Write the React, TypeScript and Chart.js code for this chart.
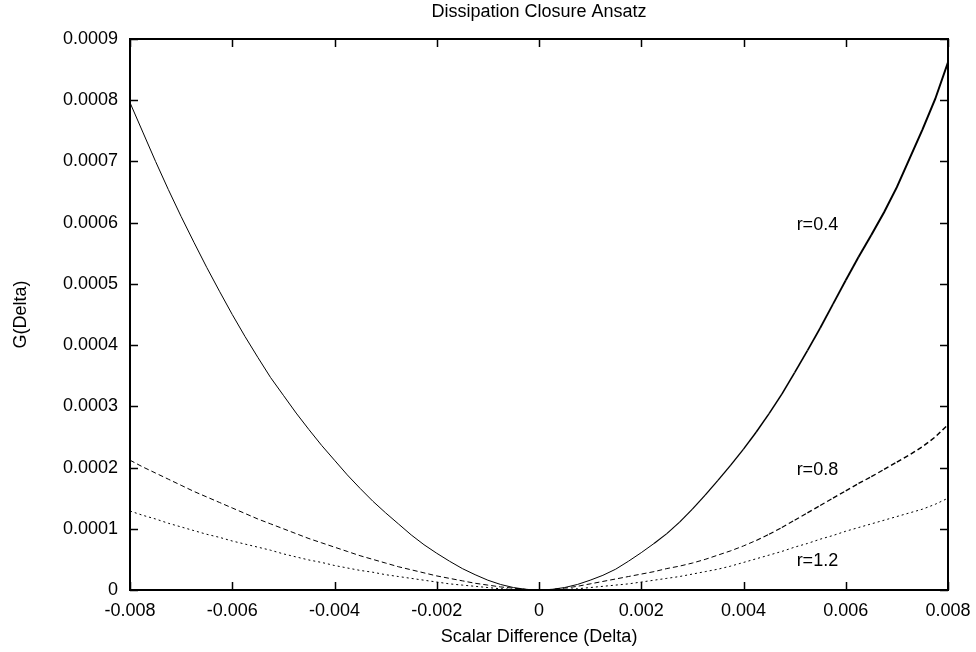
import React, { useEffect, useRef } from "react";
import { Chart, registerables } from "chart.js";

Chart.register(...registerables);

const chartTitle = "Dissipation Closure Ansatz";
const xAxisTitle = "Scalar Difference (Delta)";
const yAxisTitle = "G(Delta)";

const xTickValues = [-0.008, -0.006, -0.004, -0.002, 0, 0.002, 0.004, 0.006, 0.008];
const xTickLabels = ["-0.008", "-0.006", "-0.004", "-0.002", "0", "0.002", "0.004", "0.006", "0.008"];
const yTickValues = [0, 0.0001, 0.0002, 0.0003, 0.0004, 0.0005, 0.0006, 0.0007, 0.0008, 0.0009];
const yTickLabels = ["0", "0.0001", "0.0002", "0.0003", "0.0004", "0.0005", "0.0006", "0.0007", "0.0008", "0.0009"];

const deltas = [
  -0.008, -0.00775, -0.0075, -0.00725, -0.007, -0.00675, -0.0065, -0.00625,
  -0.006, -0.00575, -0.0055, -0.00525, -0.005, -0.00475, -0.0045, -0.00425,
  -0.004, -0.00375, -0.0035, -0.00325, -0.003, -0.00275, -0.0025, -0.00225,
  -0.002, -0.00175, -0.0015, -0.00125, -0.001, -0.00075, -0.0005, -0.00025,
  0,
  0.00025, 0.0005, 0.00075, 0.001, 0.00125, 0.0015, 0.00175, 0.002,
  0.00225, 0.0025, 0.00275, 0.003, 0.00325, 0.0035, 0.00375, 0.004,
  0.00425, 0.0045, 0.00475, 0.005, 0.00525, 0.0055, 0.00575, 0.006,
  0.00625, 0.0065, 0.00675, 0.007, 0.00725, 0.0075, 0.00775, 0.008,
];

// r = 0.4 (solid)
const gR04 = [
  796e-6, 748e-6, 700e-6, 654e-6, 610e-6, 568e-6, 527e-6, 488e-6,
  450e-6, 414e-6, 380e-6, 347e-6, 318e-6, 289e-6, 262e-6, 236e-6,
  212e-6, 188e-6, 166e-6, 145e-6, 126e-6, 108e-6, 90e-6, 74e-6,
  60e-6, 47e-6, 35e-6, 25e-6, 16e-6, 9e-6, 4e-6, 1e-6,
  0,
  1e-6, 4e-6, 9e-6, 16e-6, 24e-6, 34e-6, 47e-6, 61e-6,
  76e-6, 92e-6, 111e-6, 132e-6, 155e-6, 179e-6, 204e-6, 230e-6,
  258e-6, 288e-6, 320e-6, 355e-6, 391e-6, 428e-6, 467e-6, 506e-6,
  544e-6, 580e-6, 617e-6, 658e-6, 705e-6, 752e-6, 802e-6, 862e-6,
];

// r = 0.8 (dashed)
const gR08 = [
  212e-6, 201e-6, 191e-6, 181e-6, 171e-6, 161e-6, 152e-6, 143e-6,
  134e-6, 125e-6, 116e-6, 108e-6, 100e-6, 92e-6, 84e-6, 77e-6,
  70e-6, 63e-6, 56e-6, 50e-6, 44e-6, 38e-6, 33e-6, 28e-6,
  23e-6, 19e-6, 15e-6, 11e-6, 8e-6, 5e-6, 3e-6, 1e-6,
  0,
  1e-6, 3e-6, 6e-6, 10e-6, 14e-6, 18e-6, 22e-6, 26e-6,
  30e-6, 35e-6, 39e-6, 44e-6, 50e-6, 57e-6, 64e-6, 72e-6,
  81e-6, 91e-6, 102e-6, 114e-6, 126e-6, 138e-6, 150e-6, 162e-6,
  174e-6, 185e-6, 197e-6, 209e-6, 221e-6, 234e-6, 250e-6, 270e-6,
];

// r = 1.2 (dotted)
const gR12 = [
  129e-6, 122e-6, 116e-6, 109e-6, 103e-6, 97e-6, 91e-6, 86e-6,
  80e-6, 75e-6, 70e-6, 65e-6, 59e-6, 54e-6, 49e-6, 45e-6,
  40e-6, 36e-6, 32e-6, 29e-6, 25e-6, 22e-6, 19e-6, 16e-6,
  13e-6, 10e-6, 8e-6, 6e-6, 4e-6, 2e-6, 1e-6, 0.3e-6,
  0,
  0.3e-6, 1e-6, 2e-6, 4e-6, 6e-6, 8e-6, 10e-6, 13e-6,
  16e-6, 19e-6, 22e-6, 26e-6, 30e-6, 34e-6, 39e-6, 45e-6,
  51e-6, 57e-6, 63e-6, 70e-6, 76e-6, 83e-6, 89e-6, 96e-6,
  102e-6, 108e-6, 114e-6, 120e-6, 126e-6, 132e-6, 140e-6, 150e-6,
];

const seriesLabels = ["r=0.4", "r=0.8", "r=1.2"];
const labelX = [0.005, 0.005, 0.005];
const labelY = [0.0006, 0.0002, 0.00005];

const FONT = '18px "Liberation Sans", Arial, sans-serif';

const framePlugin = {
  id: "gnuplotFrame",
  afterDraw(chart: any) {
    const { ctx, chartArea } = chart;
    const xs = chart.scales.x;
    const ys = chart.scales.y;
    const { left, right, top, bottom } = chartArea;
    ctx.save();
    ctx.strokeStyle = "#000";
    ctx.lineWidth = 1.5;
    ctx.beginPath();
    for (const v of xTickValues) {
      const px = Math.round(xs.getPixelForValue(v)) + 0.5;
      ctx.moveTo(px, bottom);
      ctx.lineTo(px, bottom - 8);
      ctx.moveTo(px, top);
      ctx.lineTo(px, top + 8);
    }
    for (const v of yTickValues) {
      const py = Math.round(ys.getPixelForValue(v)) + 0.5;
      ctx.moveTo(left, py);
      ctx.lineTo(left + 8, py);
      ctx.moveTo(right, py);
      ctx.lineTo(right - 8, py);
    }
    ctx.stroke();
    ctx.lineWidth = 2;
    ctx.strokeRect(left, top, right - left, bottom - top);

    ctx.fillStyle = "#000";
    ctx.font = FONT;
    ctx.textAlign = "center";
    ctx.textBaseline = "middle";
    ctx.fillText(chartTitle, (left + right) / 2, 12);
    ctx.fillText(xAxisTitle, (left + right) / 2, 637);
    ctx.save();
    ctx.translate(21, (top + bottom) / 2);
    ctx.rotate(-Math.PI / 2);
    ctx.fillText(yAxisTitle, 0, 0);
    ctx.restore();

    ctx.textAlign = "left";
    for (let i = 0; i < seriesLabels.length; i++) {
      ctx.fillText(
        seriesLabels[i],
        xs.getPixelForValue(labelX[i]) + 2,
        ys.getPixelForValue(labelY[i]) + 2
      );
    }
    ctx.restore();
  },
};

const rampWidth = (x: number, start: number, end: number, extra: number) => {
  const t = Math.max(0, Math.min(1, (x - start) / (end - start)));
  return 1 + t * extra;
};

export default function App() {
  const canvasRef = useRef<HTMLCanvasElement | null>(null);

  useEffect(() => {
    if (!canvasRef.current) return;
    const mk = (vals: number[]) => deltas.map((d, i) => ({ x: d, y: vals[i] }));
    const chart = new Chart(canvasRef.current, {
      type: "scatter",
      data: {
        datasets: [
          {
            label: seriesLabels[0],
            data: mk(gR04),
            showLine: true,
            borderColor: "#000",
            borderWidth: 1,
            pointRadius: 0,
            segment: {
              borderWidth: (c: any) => rampWidth(c.p0.parsed.x, 0.002, 0.0065, 1.0),
            },
          },
          {
            label: seriesLabels[1],
            data: mk(gR08),
            showLine: true,
            borderColor: "#000",
            borderWidth: 1,
            borderDash: [5, 3],
            pointRadius: 0,
            segment: {
              borderWidth: (c: any) => rampWidth(c.p0.parsed.x, 0.004, 0.007, 0.5),
            },
          },
          {
            label: seriesLabels[2],
            data: mk(gR12),
            showLine: true,
            borderColor: "#000",
            borderWidth: 1,
            borderDash: [2, 3],
            pointRadius: 0,
          },
        ],
      },
      options: {
        animation: false,
        responsive: false,
        maintainAspectRatio: false,
        events: [],
        layout: { padding: { top: 39, right: 28, left: 0, bottom: 0 } },
        plugins: {
          legend: { display: false },
          title: { display: false },
          tooltip: { enabled: false },
        },
        scales: {
          x: {
            type: "linear",
            min: -0.008,
            max: 0.008,
            grid: { display: false, drawTicks: false },
            border: { display: false },
            afterBuildTicks: (s: any) => {
              s.ticks = xTickValues.map((v) => ({ value: v }));
            },
            afterFit: (s: any) => {
              s.height = 62;
              s.paddingLeft = 0;
              s.paddingRight = 0;
            },
            ticks: {
              autoSkip: false,
              maxRotation: 0,
              padding: 10,
              color: "#000",
              font: { family: '"Liberation Sans", Arial, sans-serif', size: 18 },
              callback: (_v: any, i: number) => xTickLabels[i],
            },
          },
          y: {
            type: "linear",
            min: 0,
            max: 0.0009,
            grid: { display: false, drawTicks: false },
            border: { display: false },
            afterBuildTicks: (s: any) => {
              s.ticks = yTickValues.map((v) => ({ value: v }));
            },
            afterFit: (s: any) => {
              s.width = 130;
              s.paddingTop = 0;
              s.paddingBottom = 0;
            },
            ticks: {
              autoSkip: false,
              padding: 12,
              color: "#000",
              font: { family: '"Liberation Sans", Arial, sans-serif', size: 18 },
              callback: (_v: any, i: number) => yTickLabels[i],
            },
          },
        },
      },
      plugins: [framePlugin],
    });
    return () => chart.destroy();
  }, []);

  return (
    <div style={{ position: "absolute", left: 0, top: 0, width: 976, height: 652, background: "#fff" }}>
      <canvas ref={canvasRef} width={976} height={652} />
    </div>
  );
}
